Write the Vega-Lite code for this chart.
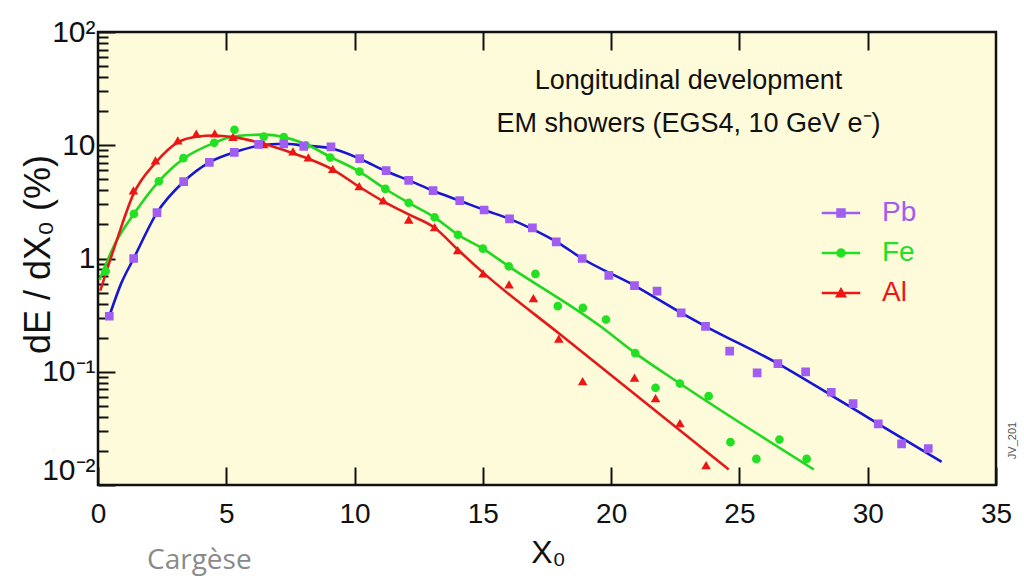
{
  "$schema": "https://vega.github.io/schema/vega-lite/v6.json",
  "width": 898,
  "height": 453,
  "autosize": {"type": "none"},
  "padding": {"left": 98, "top": 32, "right": 28, "bottom": 91},
  "background": "white",
  "config": {
    "view": {"fill": "#FDFBD9", "stroke": "#111111", "strokeWidth": 2.5},
    "font": "Liberation Sans, sans-serif"
  },
  "title": {
    "text": "Cargèse",
    "orient": "bottom",
    "anchor": "start",
    "frame": "group",
    "baseline": "top",
    "offset": -21,
    "dx": 49,
    "font": "Open Sans",
    "fontSize": 28,
    "fontWeight": "normal",
    "color": "#8a8a8a"
  },
  "datasets": {
    "fit": [
      {"material": "Pb", "x0": 0.44, "dE": 0.309},
      {"material": "Pb", "x0": 0.9, "dE": 0.6},
      {"material": "Pb", "x0": 1.39, "dE": 1.0},
      {"material": "Pb", "x0": 2.3, "dE": 2.54},
      {"material": "Pb", "x0": 3.34, "dE": 4.77},
      {"material": "Pb", "x0": 4.34, "dE": 7.06},
      {"material": "Pb", "x0": 5.31, "dE": 8.66},
      {"material": "Pb", "x0": 6.26, "dE": 9.9},
      {"material": "Pb", "x0": 7.24, "dE": 10.3},
      {"material": "Pb", "x0": 8.02, "dE": 9.95},
      {"material": "Pb", "x0": 9.08, "dE": 9.4},
      {"material": "Pb", "x0": 10.2, "dE": 7.6},
      {"material": "Pb", "x0": 11.23, "dE": 5.9},
      {"material": "Pb", "x0": 12.11, "dE": 4.9},
      {"material": "Pb", "x0": 13.06, "dE": 3.97},
      {"material": "Pb", "x0": 14.1, "dE": 3.24},
      {"material": "Pb", "x0": 15.05, "dE": 2.68},
      {"material": "Pb", "x0": 16.04, "dE": 2.24},
      {"material": "Pb", "x0": 16.93, "dE": 1.82},
      {"material": "Pb", "x0": 17.86, "dE": 1.41},
      {"material": "Pb", "x0": 18.87, "dE": 1.0},
      {"material": "Pb", "x0": 20.91, "dE": 0.577},
      {"material": "Pb", "x0": 22.73, "dE": 0.331},
      {"material": "Pb", "x0": 23.68, "dE": 0.252},
      {"material": "Pb", "x0": 26.5, "dE": 0.118},
      {"material": "Pb", "x0": 28.58, "dE": 0.062},
      {"material": "Pb", "x0": 30.41, "dE": 0.0347},
      {"material": "Pb", "x0": 32.88, "dE": 0.016},
      {"material": "Fe", "x0": 0.06, "dE": 0.65},
      {"material": "Fe", "x0": 0.7, "dE": 1.4},
      {"material": "Fe", "x0": 1.4, "dE": 2.48},
      {"material": "Fe", "x0": 2.37, "dE": 4.8},
      {"material": "Fe", "x0": 3.33, "dE": 7.6},
      {"material": "Fe", "x0": 4.53, "dE": 10.5},
      {"material": "Fe", "x0": 5.32, "dE": 12.0},
      {"material": "Fe", "x0": 6.46, "dE": 12.4},
      {"material": "Fe", "x0": 7.24, "dE": 11.8},
      {"material": "Fe", "x0": 8.02, "dE": 10.4},
      {"material": "Fe", "x0": 9.05, "dE": 7.9},
      {"material": "Fe", "x0": 10.19, "dE": 5.85},
      {"material": "Fe", "x0": 11.2, "dE": 4.11},
      {"material": "Fe", "x0": 12.11, "dE": 3.1},
      {"material": "Fe", "x0": 13.12, "dE": 2.31},
      {"material": "Fe", "x0": 14.03, "dE": 1.62},
      {"material": "Fe", "x0": 15.0, "dE": 1.22},
      {"material": "Fe", "x0": 16.01, "dE": 0.853},
      {"material": "Fe", "x0": 19.58, "dE": 0.252},
      {"material": "Fe", "x0": 20.94, "dE": 0.146},
      {"material": "Fe", "x0": 22.68, "dE": 0.0787},
      {"material": "Fe", "x0": 27.9, "dE": 0.0137},
      {"material": "Al", "x0": 0.09, "dE": 0.52},
      {"material": "Al", "x0": 0.74, "dE": 1.47},
      {"material": "Al", "x0": 1.38, "dE": 3.7},
      {"material": "Al", "x0": 2.24, "dE": 7.0},
      {"material": "Al", "x0": 3.11, "dE": 10.6},
      {"material": "Al", "x0": 3.83, "dE": 11.9},
      {"material": "Al", "x0": 4.55, "dE": 12.2},
      {"material": "Al", "x0": 5.26, "dE": 11.8},
      {"material": "Al", "x0": 6.46, "dE": 10.3},
      {"material": "Al", "x0": 7.6, "dE": 8.5},
      {"material": "Al", "x0": 8.2, "dE": 7.6},
      {"material": "Al", "x0": 9.15, "dE": 6.1},
      {"material": "Al", "x0": 10.18, "dE": 4.3},
      {"material": "Al", "x0": 11.12, "dE": 3.2},
      {"material": "Al", "x0": 12.11, "dE": 2.45},
      {"material": "Al", "x0": 13.12, "dE": 1.87},
      {"material": "Al", "x0": 14.02, "dE": 1.2},
      {"material": "Al", "x0": 15.01, "dE": 0.75},
      {"material": "Al", "x0": 18.02, "dE": 0.213},
      {"material": "Al", "x0": 24.58, "dE": 0.0137}
    ],
    "sim": [
      {"material": "Al", "x0": 1.38, "dE": 3.97},
      {"material": "Al", "x0": 2.24, "dE": 7.31},
      {"material": "Al", "x0": 3.11, "dE": 11.0},
      {"material": "Al", "x0": 3.83, "dE": 12.6},
      {"material": "Al", "x0": 4.55, "dE": 12.7},
      {"material": "Al", "x0": 5.26, "dE": 11.8},
      {"material": "Al", "x0": 6.46, "dE": 10.2},
      {"material": "Al", "x0": 7.6, "dE": 8.78},
      {"material": "Al", "x0": 8.2, "dE": 7.78},
      {"material": "Al", "x0": 9.15, "dE": 6.15},
      {"material": "Al", "x0": 10.18, "dE": 4.34},
      {"material": "Al", "x0": 11.12, "dE": 3.24},
      {"material": "Al", "x0": 12.11, "dE": 2.2},
      {"material": "Al", "x0": 13.12, "dE": 1.88},
      {"material": "Al", "x0": 14.02, "dE": 1.18},
      {"material": "Al", "x0": 15.01, "dE": 0.736},
      {"material": "Al", "x0": 16.02, "dE": 0.589},
      {"material": "Al", "x0": 16.97, "dE": 0.445},
      {"material": "Al", "x0": 17.96, "dE": 0.195},
      {"material": "Al", "x0": 18.89, "dE": 0.0824},
      {"material": "Al", "x0": 20.91, "dE": 0.0883},
      {"material": "Al", "x0": 21.73, "dE": 0.0583},
      {"material": "Al", "x0": 22.68, "dE": 0.0351},
      {"material": "Al", "x0": 23.7, "dE": 0.0149},
      {"material": "Fe", "x0": 0.3, "dE": 0.771},
      {"material": "Fe", "x0": 1.4, "dE": 2.48},
      {"material": "Fe", "x0": 2.37, "dE": 4.8},
      {"material": "Fe", "x0": 3.33, "dE": 7.69},
      {"material": "Fe", "x0": 4.53, "dE": 10.5},
      {"material": "Fe", "x0": 5.32, "dE": 13.7},
      {"material": "Fe", "x0": 6.46, "dE": 11.9},
      {"material": "Fe", "x0": 7.24, "dE": 11.8},
      {"material": "Fe", "x0": 8.1, "dE": 10.0},
      {"material": "Fe", "x0": 9.05, "dE": 7.78},
      {"material": "Fe", "x0": 10.19, "dE": 5.85},
      {"material": "Fe", "x0": 11.2, "dE": 4.11},
      {"material": "Fe", "x0": 12.11, "dE": 3.1},
      {"material": "Fe", "x0": 13.12, "dE": 2.31},
      {"material": "Fe", "x0": 14.03, "dE": 1.62},
      {"material": "Fe", "x0": 15.0, "dE": 1.22},
      {"material": "Fe", "x0": 16.01, "dE": 0.853},
      {"material": "Fe", "x0": 17.05, "dE": 0.731},
      {"material": "Fe", "x0": 17.92, "dE": 0.379},
      {"material": "Fe", "x0": 18.9, "dE": 0.366},
      {"material": "Fe", "x0": 19.8, "dE": 0.289},
      {"material": "Fe", "x0": 20.94, "dE": 0.146},
      {"material": "Fe", "x0": 21.73, "dE": 0.0721},
      {"material": "Fe", "x0": 22.68, "dE": 0.0787},
      {"material": "Fe", "x0": 23.8, "dE": 0.0608},
      {"material": "Fe", "x0": 24.65, "dE": 0.0239},
      {"material": "Fe", "x0": 25.66, "dE": 0.017},
      {"material": "Fe", "x0": 26.56, "dE": 0.0252},
      {"material": "Fe", "x0": 27.62, "dE": 0.017},
      {"material": "Pb", "x0": 0.44, "dE": 0.309},
      {"material": "Pb", "x0": 1.39, "dE": 1.0},
      {"material": "Pb", "x0": 2.3, "dE": 2.54},
      {"material": "Pb", "x0": 3.34, "dE": 4.77},
      {"material": "Pb", "x0": 4.34, "dE": 7.06},
      {"material": "Pb", "x0": 5.31, "dE": 8.66},
      {"material": "Pb", "x0": 6.26, "dE": 10.2},
      {"material": "Pb", "x0": 7.24, "dE": 10.3},
      {"material": "Pb", "x0": 8.02, "dE": 9.78},
      {"material": "Pb", "x0": 9.08, "dE": 9.66},
      {"material": "Pb", "x0": 10.2, "dE": 7.62},
      {"material": "Pb", "x0": 11.23, "dE": 5.97},
      {"material": "Pb", "x0": 12.11, "dE": 4.9},
      {"material": "Pb", "x0": 13.06, "dE": 3.97},
      {"material": "Pb", "x0": 14.1, "dE": 3.24},
      {"material": "Pb", "x0": 15.05, "dE": 2.68},
      {"material": "Pb", "x0": 16.04, "dE": 2.24},
      {"material": "Pb", "x0": 16.93, "dE": 1.86},
      {"material": "Pb", "x0": 17.86, "dE": 1.4},
      {"material": "Pb", "x0": 18.87, "dE": 1.0},
      {"material": "Pb", "x0": 19.91, "dE": 0.711},
      {"material": "Pb", "x0": 20.91, "dE": 0.577},
      {"material": "Pb", "x0": 21.79, "dE": 0.514},
      {"material": "Pb", "x0": 22.73, "dE": 0.331},
      {"material": "Pb", "x0": 23.68, "dE": 0.252},
      {"material": "Pb", "x0": 24.62, "dE": 0.152},
      {"material": "Pb", "x0": 25.69, "dE": 0.0977},
      {"material": "Pb", "x0": 26.5, "dE": 0.118},
      {"material": "Pb", "x0": 27.58, "dE": 0.0998},
      {"material": "Pb", "x0": 28.58, "dE": 0.0659},
      {"material": "Pb", "x0": 29.43, "dE": 0.0524},
      {"material": "Pb", "x0": 30.41, "dE": 0.0347},
      {"material": "Pb", "x0": 31.32, "dE": 0.0231},
      {"material": "Pb", "x0": 32.36, "dE": 0.021}
    ]
  },
  "layer": [
    {
      "data": {"name": "fit"},
      "transform": [{"filter": "datum.material === 'Pb'"}],
      "mark": {"type": "line", "strokeWidth": 2.6, "interpolate": "monotone", "color": "#1616d4"},
      "encoding": {
        "x": {
          "field": "x0",
          "type": "quantitative",
          "scale": {"domain": [0, 35], "nice": false, "zero": false},
          "axis": {
            "orient": "bottom",
            "values": [0, 5, 10, 15, 20, 25, 30, 35],
            "domain": false,
            "grid": false,
            "tickSize": -18,
            "tickWidth": 2,
            "tickColor": "#111111",
            "labelFontSize": 28,
            "labelColor": "#111111",
            "labelPadding": 33,
            "labelFlush": false,
            "labelOverlap": false,
            "title": "X₀",
            "titleFontSize": 32,
            "titleFontWeight": "normal",
            "titleColor": "#111111",
            "titleX": 450,
            "titleY": 77,
            "titleAlign": "center",
            "titleBaseline": "alphabetic"
          }
        },
        "y": {
          "field": "dE",
          "type": "quantitative",
          "scale": {"type": "log", "domain": [0.01, 100], "nice": false},
          "axis": {
            "orient": "left",
            "values": [0.01, 0.02, 0.03, 0.04, 0.05, 0.06, 0.07, 0.08, 0.09, 0.1, 0.2, 0.3, 0.4, 0.5, 0.6, 0.7, 0.8, 0.9, 1, 2, 3, 4, 5, 6, 7, 8, 9, 10, 20, 30, 40, 50, 60, 70, 80, 90, 100],
            "domain": false,
            "grid": false,
            "tickColor": "#111111",
            "tickWidth": 2,
            "tickSize": {
              "condition": {"test": "abs(log(datum.value) / LN10 - round(log(datum.value) / LN10)) < 0.001", "value": -17},
              "value": -10
            },
            "labelExpr": "abs(log(datum.value) / LN10 - round(log(datum.value) / LN10)) > 0.001 ? '' : datum.value > 50 ? '10²' : datum.value > 5 ? '10' : datum.value > 0.5 ? '1' : datum.value > 0.05 ? '10⁻¹' : '10⁻²'",
            "labelFontSize": 30,
            "labelColor": "#111111",
            "labelPadding": 20,
            "labelFlush": false,
            "labelOverlap": false,
            "labelBound": false,
            "labelBaseline": {"condition": {"test": "datum.value < 0.015", "value": "bottom"}, "value": "middle"},
            "title": "dE / dX₀ (%)",
            "titleFontSize": 36,
            "titleFontWeight": "normal",
            "titleColor": "#111111",
            "titleAngle": 270,
            "titleX": -60,
            "titleY": 222,
            "titleAlign": "center",
            "titleBaseline": "middle"
          }
        }
      }
    },
    {
      "data": {"name": "fit"},
      "transform": [{"filter": "datum.material === 'Fe'"}],
      "mark": {"type": "line", "strokeWidth": 2.6, "interpolate": "monotone", "color": "#1fd81f"},
      "encoding": {
        "x": {"field": "x0", "type": "quantitative", "scale": {"domain": [0, 35], "nice": false, "zero": false}, "axis": null},
        "y": {"field": "dE", "type": "quantitative", "scale": {"type": "log", "domain": [0.01, 100], "nice": false}, "axis": null}
      }
    },
    {
      "data": {"name": "fit"},
      "transform": [{"filter": "datum.material === 'Al'"}],
      "mark": {"type": "line", "strokeWidth": 2.6, "interpolate": "monotone", "color": "#e41a1a"},
      "encoding": {
        "x": {"field": "x0", "type": "quantitative", "scale": {"domain": [0, 35], "nice": false, "zero": false}, "axis": null},
        "y": {"field": "dE", "type": "quantitative", "scale": {"type": "log", "domain": [0.01, 100], "nice": false}, "axis": null}
      }
    },
    {
      "data": {"name": "sim"},
      "mark": {"type": "point", "filled": true, "opacity": 1, "size": 76},
      "encoding": {
        "x": {
          "field": "x0",
          "type": "quantitative",
          "scale": {"domain": [0, 35], "nice": false, "zero": false},
          "axis": {
            "orient": "top",
            "values": [5, 10, 15, 20, 25, 30],
            "domain": false,
            "grid": false,
            "labels": false,
            "tickSize": -18,
            "tickWidth": 2,
            "tickColor": "#111111",
            "title": ["Longitudinal development", "EM showers (EGS4, 10 GeV e⁻)"],
            "titleFontSize": 27,
            "titleFontWeight": "normal",
            "titleColor": "#111111",
            "titleLineHeight": 43,
            "titleAngle": 0,
            "titleX": 590,
            "titleY": 56,
            "titleAlign": "center",
            "titleBaseline": "alphabetic"
          }
        },
        "y": {
          "field": "dE",
          "type": "quantitative",
          "scale": {"type": "log", "domain": [0.01, 100], "nice": false},
          "axis": {
            "orient": "right",
            "domain": false,
            "ticks": false,
            "labels": false,
            "grid": false,
            "title": "JV_201",
            "titleFontSize": 11,
            "titleFontWeight": "normal",
            "titleColor": "#555555",
            "titleAngle": 270,
            "titleX": 16,
            "titleY": 408,
            "titleAlign": "center",
            "titleBaseline": "middle"
          }
        },
        "fill": {
          "field": "material",
          "type": "nominal",
          "scale": {"domain": ["Pb", "Fe", "Al"], "range": ["#a15cf2", "#22e022", "#ee1515"]}
        },
        "stroke": {
          "field": "material",
          "type": "nominal",
          "scale": {"domain": ["Pb", "Fe", "Al"], "range": ["#a15cf2", "#22e022", "#ee1515"]}
        },
        "strokeWidth": {"value": 0},
        "shape": {
          "field": "material",
          "type": "nominal",
          "scale": {
            "domain": ["Pb", "Fe", "Al"],
            "range": [
              "M-1,-1H1V1H-1Z M-5.5,0H5.5",
              "M-1,0A1,1,0,1,1,1,0A1,1,0,1,1,-1,0Z M-5.5,0H5.5",
              "M0,-1L1.1,0.9H-1.1Z M-5.5,0H5.5"
            ]
          },
          "legend": {
            "orient": "none",
            "legendX": 729,
            "legendY": 167,
            "title": null,
            "rowPadding": 12,
            "symbolSize": 49,
            "symbolStrokeWidth": 2.5,
            "labelColor": {"expr": "scale('fill', datum.value)"},
            "labelOffset": 27,
            "labelFontSize": 28
          }
        }
      }
    }
  ],
  "resolve": {"axis": {"x": "independent", "y": "independent"}}
}
